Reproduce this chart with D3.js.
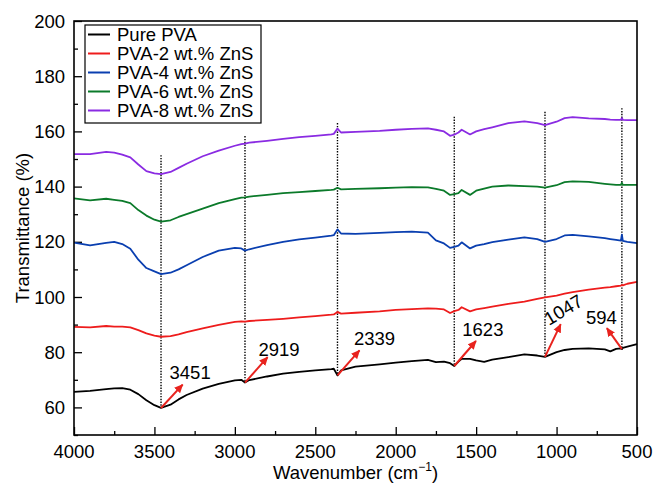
<!DOCTYPE html>
<html>
<head>
<meta charset="utf-8">
<script src="https://cdn.jsdelivr.net/npm/d3@7"></script>
<style>
  body { margin: 0; background: #fff; }
  svg { display: block; font-family: "Liberation Sans", Arial, sans-serif; }
</style>
</head>
<body>
<svg id="chart" width="655" height="489"></svg>
<script>
// wavenumber grid (cm-1), shared by all spectra
const wavenumber = [4000, 3900, 3800, 3750, 3700, 3650, 3600, 3550, 3500, 3459, 3400, 3350, 3300, 3200, 3100, 3000, 2960, 2937, 2910, 2800, 2700, 2600, 2500, 2400, 2385, 2362, 2340, 2250, 2100, 2000, 1900, 1800, 1750, 1700, 1662, 1636, 1610, 1590, 1538, 1500, 1450, 1400, 1300, 1200, 1120, 1072, 1000, 950, 900, 800, 700, 666, 630, 600, 594, 588, 560, 500];

const purePVA = [65.6, 66.0, 66.6, 66.9, 67.0, 66.4, 64.8, 62.6, 60.8, 59.8, 61.0, 62.9, 64.5, 66.8, 68.5, 69.8, 70.0, 69.0, 69.9, 71.2, 72.2, 72.9, 73.4, 73.9, 74.0, 71.6, 73.4, 74.8, 75.6, 76.2, 76.8, 77.2, 76.4, 76.6, 76.0, 75.0, 76.6, 77.6, 77.6, 77.0, 76.5, 77.3, 78.2, 79.2, 78.8, 78.3, 80.0, 80.8, 81.2, 81.4, 81.0, 80.3, 81.2, 81.4, 81.1, 81.6, 82.0, 82.9];
const pva2 = [89.2, 89.0, 89.5, 89.3, 89.3, 89.0, 88.0, 86.8, 86.0, 85.6, 85.8, 86.5, 87.3, 88.6, 89.9, 91.0, 91.2, 91.1, 91.3, 91.7, 92.1, 92.6, 93.1, 93.6, 93.7, 94.6, 94.0, 94.3, 94.8, 95.3, 95.6, 95.9, 95.8, 95.5, 94.2, 94.9, 95.3, 96.3, 94.8, 95.5, 96.0, 96.5, 97.5, 98.3, 99.3, 99.9, 100.5, 101.2, 101.8, 102.7, 103.4, 103.6, 103.9, 104.1, 104.4, 104.2, 104.8, 105.5];
const pva4 = [119.7, 118.7, 119.6, 120.0, 119.2, 117.5, 113.5, 110.5, 109.3, 108.3, 108.8, 110.0, 111.5, 114.5, 116.8, 117.8, 117.6, 116.8, 117.3, 118.8, 120.0, 120.9, 121.5, 122.2, 122.4, 124.5, 123.0, 122.9, 123.2, 123.5, 123.7, 123.3, 120.5, 119.4, 117.8, 118.2, 118.6, 119.8, 117.6, 118.6, 119.2, 119.9, 120.8, 121.6, 121.0, 120.0, 121.0, 122.3, 122.5, 122.0, 121.3, 121.0, 120.7, 120.4, 122.6, 120.3, 120.0, 119.5];
const pva6 = [135.7, 135.0, 135.6, 135.2, 134.8, 134.0, 131.5, 129.5, 128.0, 127.3, 127.8, 129.0, 130.0, 132.0, 134.0, 135.5, 136.0, 136.1, 136.4, 137.0, 137.6, 138.0, 138.4, 138.8, 138.9, 139.6, 139.0, 139.2, 139.4, 139.6, 139.8, 139.7, 139.2, 138.5, 137.0, 137.3, 137.6, 138.8, 137.0, 138.5, 139.3, 140.0, 140.4, 140.2, 140.0, 139.6, 140.5, 141.6, 141.9, 141.7, 141.0, 140.8, 140.6, 140.6, 141.4, 140.6, 140.6, 140.6];
const pva8 = [151.8, 151.8, 152.6, 152.3, 151.6, 150.6, 148.0, 145.6, 144.8, 144.5, 145.3, 146.8, 148.3, 151.0, 153.0, 154.8, 155.4, 155.6, 155.9, 156.6, 157.3, 157.9, 158.4, 158.9, 159.1, 161.0, 159.6, 159.8, 160.2, 160.6, 160.9, 161.1, 160.6, 160.0, 158.4, 158.8, 159.6, 160.6, 158.9, 160.0, 160.8, 161.5, 163.0, 163.6, 163.0, 162.3, 163.5, 164.8, 165.2, 164.7, 164.5, 164.3, 164.2, 164.2, 164.8, 164.2, 164.1, 164.1];

const seriesNames = ["Pure PVA", "PVA-2 wt.% ZnS", "PVA-4 wt.% ZnS", "PVA-6 wt.% ZnS", "PVA-8 wt.% ZnS"];
const seriesValues = [purePVA, pva2, pva4, pva6, pva8];
const seriesColors = ["#000000", "#ee1c1c", "#0a3fb0", "#0b7a2a", "#8a2be2"];

// marked bands: label, position of the dotted line, top of the dotted line
const peakLabels = ["3451", "2919", "2339", "1623", "1047", "594"];
const peakPos = [3459, 2937, 2362, 1636, 1072, 594];
const peakTop = [151.4, 158.3, 163.0, 165.3, 167.1, 168.4];

const xTicks = [4000, 3500, 3000, 2500, 2000, 1500, 1000, 500];
const yTicks = [60, 80, 100, 120, 140, 160, 180, 200];

const svg = d3.select("#chart");
const margin = {left: 74, right: 18, top: 21, bottom: 54};
const W = 655, H = 489;

const x = d3.scaleLinear().domain([4000, 500]).range([margin.left, W - margin.right]);
const y = d3.scaleLinear().domain([50, 200]).range([H - margin.bottom, margin.top]);

const fontSize = 18.5;

// arrow head
svg.append("defs").append("marker")
    .attr("id", "arrow")
    .attr("viewBox", "0 -5 10 10")
    .attr("refX", 9).attr("refY", 0)
    .attr("markerWidth", 9).attr("markerHeight", 9)
    .attr("markerUnits", "userSpaceOnUse")
    .attr("orient", "auto")
  .append("path")
    .attr("d", "M0,-4.5L10,0L0,4.5Z")
    .attr("fill", "#e8231e");

//Axes with inward ticks
const xAxis = svg.append("g")
    .attr("transform", `translate(0,${y(50)})`)
    .call(d3.axisBottom(x).tickValues(d3.range(4000, 499, -250)).tickSize(-4).tickFormat(""));
xAxis.selectAll(".tick line").filter(d => d % 500 === 0).attr("y2", -8);
xAxis.select(".domain").remove();

svg.append("g").selectAll("text").data(xTicks).enter().append("text")
    .attr("x", d => x(d))
    .attr("y", y(50) + 23)
    .attr("text-anchor", "middle")
    .attr("font-size", fontSize)
    .text(d => d);

const yAxis = svg.append("g")
    .attr("transform", `translate(${x(4000)},0)`)
    .call(d3.axisLeft(y).tickValues(d3.range(50, 201, 10)).tickSize(-4).tickFormat(""));
yAxis.selectAll(".tick line").filter(d => d % 20 === 0).attr("x2", 8);
yAxis.select(".domain").remove();

svg.append("g").selectAll("text").data(yTicks).enter().append("text")
    .attr("x", x(4000) - 9)
    .attr("y", d => y(d))
    .attr("dy", "0.36em")
    .attr("text-anchor", "end")
    .attr("font-size", fontSize)
    .text(d => d);

svg.selectAll(".tick line").attr("stroke", "#000").attr("stroke-width", 1.3);

// dotted marker lines
const dotted = svg.append("g");
peakPos.forEach((p, i) => {
    const j = wavenumber.indexOf(p);
    dotted.append("line")
        .attr("x1", x(p)).attr("x2", x(p))
        .attr("y1", y(peakTop[i])).attr("y2", y(purePVA[j]))
        .attr("stroke", "#000")
        .attr("stroke-width", 1.4)
        .attr("stroke-dasharray", "1.4,1.4");
});

// spectra
const line = d3.line()
    .x((d, i) => x(wavenumber[i]))
    .y(d => y(d));

svg.append("g").selectAll("path").data(seriesValues).enter().append("path")
    .attr("d", d => line(d))
    .attr("fill", "none")
    .attr("stroke", (d, i) => seriesColors[i])
    .attr("stroke-width", 1.8)
    .attr("stroke-linejoin", "round");

// arrows and band labels (offsets in px from the dip on the pure PVA curve)
const arrowEnd = [[21.6, -23.3], [22.6, -25.4], [22, -25], [21.7, -25], [15.7, -32.7], [-15, -21]];
const labelOff = [[8.5, -28.5], [13.5, -27], [16.5, -30], [8, -30], [4, -31], [-36, -25]];
const labelRot = [0, 0, 0, 0, -31, 0];

const notes = svg.append("g");
peakPos.forEach((p, i) => {
    const j = wavenumber.indexOf(p);
    const x0 = x(p), y0 = y(purePVA[j]);
    notes.append("line")
        .attr("x1", x0).attr("y1", y0)
        .attr("x2", x0 + arrowEnd[i][0]).attr("y2", y0 + arrowEnd[i][1])
        .attr("stroke", "#e8231e")
        .attr("stroke-width", 2)
        .attr("marker-end", "url(#arrow)");
    const tx = x0 + labelOff[i][0], ty = y0 + labelOff[i][1];
    notes.append("text")
        .attr("transform", `translate(${tx},${ty}) rotate(${labelRot[i]})`)
        .attr("font-size", fontSize)
        .text(peakLabels[i]);
});

// frame
svg.append("rect")
    .attr("x", x(4000)).attr("y", y(200))
    .attr("width", x(500) - x(4000)).attr("height", y(50) - y(200))
    .attr("fill", "none")
    .attr("stroke", "#000")
    .attr("stroke-width", 1.6);

// legend
const legend = svg.append("g").attr("transform", "translate(85,25)");
legend.append("rect")
    .attr("width", 176).attr("height", 98)
    .attr("fill", "#fff")
    .attr("stroke", "#000")
    .attr("stroke-width", 1.2);
const rows = legend.selectAll(".row").data(seriesNames).enter().append("g")
    .attr("class", "row")
    .attr("transform", (d, i) => `translate(0,${9.5 + i * 19})`);
rows.append("line")
    .attr("x1", 3).attr("x2", 25)
    .attr("stroke", (d, i) => seriesColors[i])
    .attr("stroke-width", 2);
rows.append("text")
    .attr("x", 32)
    .attr("dy", "0.36em")
    .attr("font-size", fontSize)
    .text(d => d);

// axis titles
const xt = svg.append("text")
    .attr("x", (x(4000) + x(500)) / 2)
    .attr("y", 479)
    .attr("text-anchor", "middle")
    .attr("font-size", fontSize);
xt.append("tspan").text("Wavenumber (cm");
xt.append("tspan").attr("font-size", 12).attr("dy", -8).text("\u22121");
xt.append("tspan").attr("dy", 8).text(")");

svg.append("text")
    .attr("transform", `translate(29,${(y(50) + y(200)) / 2}) rotate(-90)`)
    .attr("text-anchor", "middle")
    .attr("font-size", fontSize)
    .text("Transmittance (%)");
</script>
</body>
</html>
